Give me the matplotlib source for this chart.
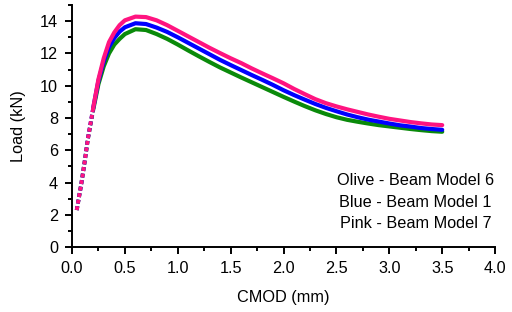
import matplotlib
matplotlib.use("Agg")
import matplotlib.pyplot as plt
from matplotlib.ticker import MultipleLocator

plt.rcParams['font.family'] = ['Liberation Sans', 'DejaVu Sans']

# CMOD (mm)
cmod = [0.045, 0.09, 0.12, 0.15, 0.2, 0.25, 0.3, 0.35, 0.4, 0.45, 0.5, 0.6, 0.7, 0.8, 0.9,
        1.0, 1.1, 1.2, 1.3, 1.4, 1.5, 1.6, 1.7, 1.8, 1.9, 2.0, 2.1, 2.2, 2.3, 2.4, 2.5,
        2.6, 2.7, 2.8, 2.9, 3.0, 3.1, 3.2, 3.3, 3.4, 3.5]

# Load (kN)
pink_model7 = [2.3, 4.0, 5.3, 6.7, 8.6, 10.4, 11.7, 12.7, 13.3, 13.75, 14.05, 14.28, 14.25, 14.05, 13.75,
               13.4, 13.05, 12.7, 12.35, 12.02, 11.7, 11.4, 11.07, 10.76, 10.46, 10.15, 9.8, 9.48, 9.17, 8.92, 8.72,
               8.54, 8.38, 8.22, 8.08, 7.95, 7.85, 7.75, 7.67, 7.6, 7.56]
blue_model1 = [2.3, 4.0, 5.3, 6.7, 8.6, 10.3, 11.5, 12.4, 12.95, 13.35, 13.62, 13.87, 13.82, 13.6, 13.33,
               13.0, 12.65, 12.3, 11.95, 11.6, 11.28, 10.97, 10.66, 10.36, 10.05, 9.72, 9.42, 9.14, 8.87, 8.63, 8.42,
               8.22, 8.05, 7.9, 7.78, 7.66, 7.55, 7.47, 7.38, 7.32, 7.27]
olive_model6 = [2.3, 4.0, 5.3, 6.7, 8.5, 10.1, 11.2, 12.0, 12.55, 12.9, 13.2, 13.5, 13.45, 13.2, 12.9,
                12.55, 12.18, 11.82, 11.47, 11.13, 10.82, 10.51, 10.21, 9.91, 9.61, 9.31, 9.02, 8.74, 8.48, 8.25, 8.05,
                7.89, 7.77, 7.66, 7.56, 7.48, 7.4, 7.32, 7.25, 7.19, 7.15]

labels = ["Olive - Beam Model 6", "Blue - Beam Model 1", "Pink - Beam Model 7"]
series = [(olive_model6, '#0a8a0a'), (blue_model1, '#0000ff'), (pink_model7, '#ff1480')]

fig = plt.figure(figsize=(5.12, 3.12), dpi=100)
ax = fig.add_axes([0.1406, 0.2077, 0.8264, 0.7763])

k = 5  # the sparse, dotted rising branch
for vals, col in series:
    ax.plot(cmod[:k], vals[:k], color=col, lw=2.8, linestyle=(0, (1, 0.7)))
    ax.plot(cmod[k - 1:], vals[k - 1:], color=col, lw=3.0, solid_capstyle='round',
            solid_joinstyle='round')

ax.set_xlim(0, 4.0)
ax.set_ylim(0, 15)
ax.xaxis.set_major_locator(MultipleLocator(0.5))
ax.xaxis.set_minor_locator(MultipleLocator(0.25))
ax.yaxis.set_major_locator(MultipleLocator(2))
ax.yaxis.set_minor_locator(MultipleLocator(1))
ax.xaxis.set_major_formatter(plt.FuncFormatter(lambda v, p: f"{v:.1f}"))
for s in ['top', 'right']:
    ax.spines[s].set_visible(False)
for s in ['left', 'bottom']:
    ax.spines[s].set_linewidth(1.4)
ax.tick_params(which='major', direction='out', length=5, width=1.4, labelsize=11.7, pad=5)
ax.tick_params(which='minor', direction='out', length=3, width=1.4)

ax.set_xlabel("CMOD (mm)", fontsize=11.7, labelpad=10)
ax.set_ylabel("Load (kN)", fontsize=11.7, labelpad=10)

for lab, yy in zip(labels, [0.2746, 0.1854, 0.0987]):
    ax.text(0.812, yy, lab, transform=ax.transAxes, ha='center', va='center', fontsize=11.7)

fig.savefig("out.png", dpi=100)
